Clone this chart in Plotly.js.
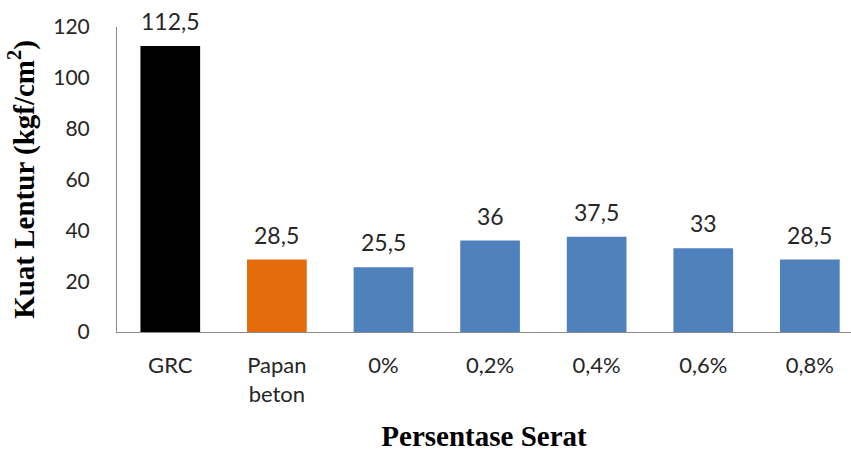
<!DOCTYPE html>
<html><head><meta charset="utf-8">
<script src="https://cdn.plot.ly/plotly-3.0.1.min.js"></script>
<style>html,body{margin:0;padding:0;background:#fff}#c{width:851px;height:452px}</style>
</head><body><div id="c"></div>
<script>
const categories = ["GRC", "Papan<br>beton", "0%", "0,2%", "0,4%", "0,6%", "0,8%"];
const values = [112.5, 28.5, 25.5, 36, 37.5, 33, 28.5];
const colors = ["#000000", "#E46C0A", "#4F81BD", "#4F81BD", "#4F81BD", "#4F81BD", "#4F81BD"];
const yTicks = [0, 20, 40, 60, 80, 100, 120];

const labels = values.map(v => String(v).replace('.', ','));

const trace = {
  type: 'bar',
  x: categories,
  y: values,
  marker: {color: colors},
  width: 0.56,
  hoverinfo: 'skip'
};

const annotations = categories.map((c, i) => ({
  x: c, y: values[i], text: labels[i], showarrow: false,
  xanchor: 'center', yanchor: 'bottom', yshift: 9,
  font: {family: 'Lato, "Open Sans", sans-serif', size: 23, color: '#262626'}
}));

const layout = {
  width: 851, height: 452,
  margin: {l: 117, r: 0, t: 27, b: 120},
  paper_bgcolor: '#fff', plot_bgcolor: '#fff',
  showlegend: false,
  xaxis: {
    type: 'category',
    range: [-0.5, 6.386],
    showline: true, linecolor: '#898989', linewidth: 1,
    ticks: '', showgrid: false, zeroline: false,
    ticklabelstandoff: 14,
    tickfont: {family: 'Lato, "Open Sans", sans-serif', size: 22, color: '#262626'},
    title: {text: '<b>Persentase Serat</b>', standoff: 21,
      font: {family: '"Liberation Serif", "Times New Roman", serif', size: 29, color: '#000'}}
  },
  yaxis: {
    range: [0, 120],
    tickvals: yTicks,
    ticktext: yTicks.map(String),
    showline: true, linecolor: '#898989', linewidth: 1,
    ticks: '', showgrid: false, zeroline: false,
    ticklabelstandoff: 22,
    tickfont: {family: 'Lato, "Open Sans", sans-serif', size: 21, color: '#262626'},
    title: {text: '<b>Kuat Lentur (kgf/cm<sup>2</sup>)</b>', standoff: 10,
      font: {family: '"Liberation Serif", "Times New Roman", serif', size: 29, color: '#000'}}
  },
  annotations: annotations
};

Plotly.newPlot('c', [trace], layout, {displayModeBar: false, staticPlot: true});
</script>
</body></html>
